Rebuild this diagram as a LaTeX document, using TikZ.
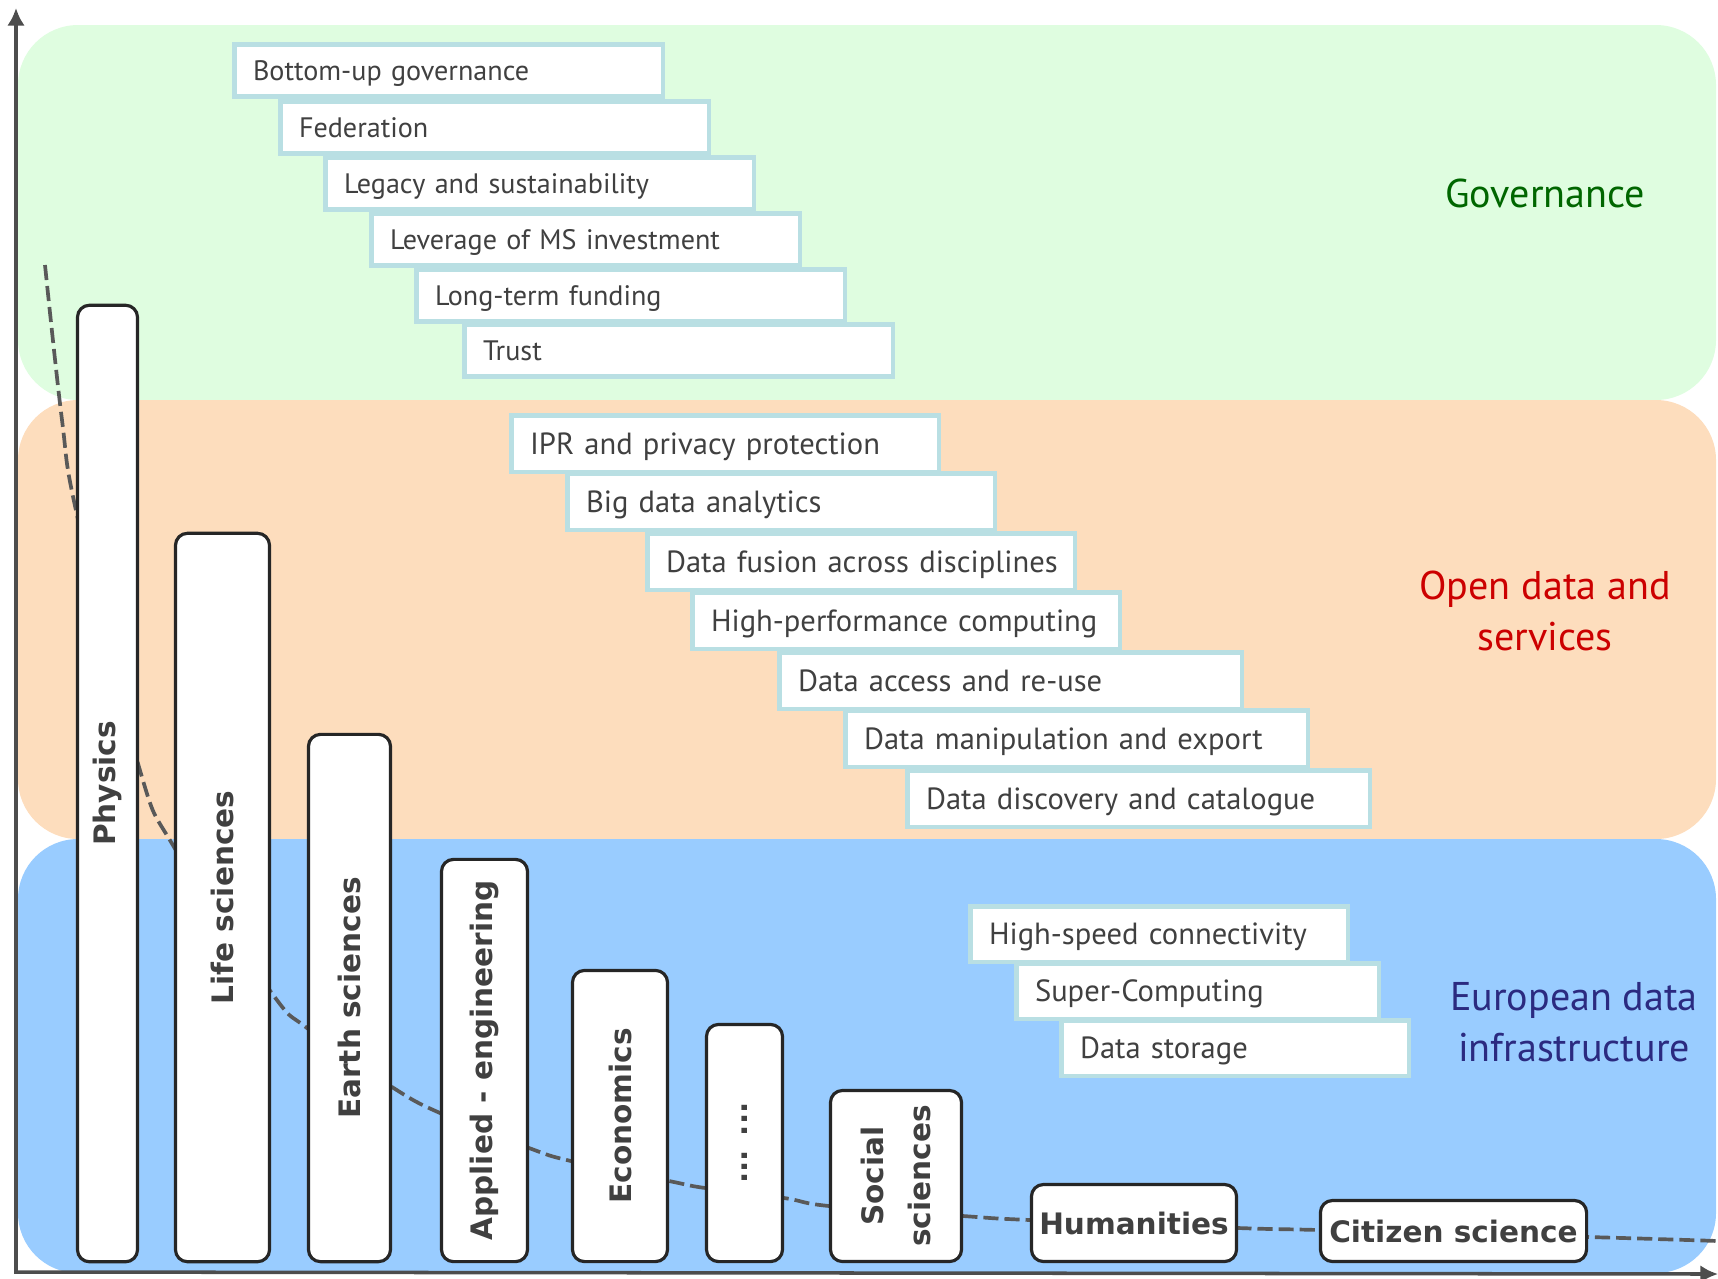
\documentclass[tikz,border=0pt]{standalone}
\usepackage{fontspec}
\setmainfont{PT Sans}
\newfontfamily\barfont{DejaVu Sans}
\usepackage{tikz}
\usetikzlibrary{arrows.meta}

\definecolor{govbg}{HTML}{DFFDE0}
\definecolor{openbg}{HTML}{FDDDBD}
\definecolor{infrabg}{HTML}{99CCFF}
\definecolor{boxrim}{HTML}{B9DFE3}
\definecolor{inkgray}{HTML}{404040}
\definecolor{axisgray}{HTML}{4D4D4D}
\definecolor{govgreen}{HTML}{006600}
\definecolor{openred}{HTML}{CC0000}
\definecolor{infrablue}{HTML}{2B2A80}

\tikzset{
  layer/.style={rounded corners=0.6cm},
  stairbox/.style={draw=boxrim, line width=1.3pt, fill=white, anchor=north west,
    inner xsep=0.187cm, inner ysep=0pt, text height=5.6pt, text depth=0pt,
    text width=#1, align=left, text=inkgray, font=\fontsize{8}{9.6}\selectfont},
  bigstair/.style={stairbox=#1, text height=6.1pt, font=\fontsize{8.7}{10.4}\selectfont},
  bar/.style={draw=black!85, line width=0.9pt, fill=white, rounded corners=0.12cm,
    inner sep=0pt, align=center, text=inkgray, font=\barfont\bfseries\fontsize{8.4}{13.3}\selectfont},
  areatitle/.style={align=center, font=\fontsize{11.4}{14.5}\selectfont},
  axis/.style={draw=axisgray, line width=1pt},
  trend/.style={draw=black!65, line width=1.05pt, dash pattern=on 4.3pt off 1.7pt}
}

\begin{document}
\begin{tikzpicture}[x=0.01cm, y=-0.01cm]
  \useasboundingbox (0,0) rectangle (1718,1278);

  % three layers
  \fill[govbg, layer] (18,25) rectangle (1716,400);
  \fill[openbg, layer] (18,400) rectangle (1716,839);
  \fill[infrabg, layer] (18,839) rectangle (1716,1273);

  % trend curve (behind the bars)
  \draw[trend] plot[smooth, tension=0.6] coordinates {(45,265) (62,420) (77,515) (139,767)
    (174,847) (271,992) (307,1028) (392,1087) (440,1113) (529,1148) (571,1161)
    (669,1181) (705,1188) (784,1198) (829,1206) (963,1216) (1030,1220) (1238,1228)
    (1319,1230) (1588,1237) (1718,1241)};

  % disciplines
  \foreach \nm/\cx/\cy/\barh/\barw/\txt in {phys/107.5/783.5/9.56/0.60/Physics,
      life/222.5/897.5/7.28/0.94/Life sciences, earth/349.5/998/5.27/0.82/Earth sciences,
      appl/484.5/1060.5/4.02/0.86/Applied - engineering, econ/620/1116/2.91/0.95/Economics,
      soc/896/1176/1.71/1.31/{Social\\sciences}}
    \node[bar, rotate=90, minimum width=\barh cm, minimum height=\barw cm] (\nm) at (\cx,\cy) {\txt};
  \node[bar, rotate=90, minimum width=2.37cm, minimum height=0.76cm] (dots) at (744.5,1143) {... ...};
  \node[bar, minimum width=2.05cm, minimum height=0.77cm] (hum) at (1134,1223) {Humanities};
  \node[bar, minimum width=2.66cm, minimum height=0.61cm] (cit) at (1453.5,1231) {Citizen science};

  % governance
  \foreach \n/\x/\y/\t in {1/232/42/Bottom-up governance, 2/278/99/Federation,
      3/323/155/Legacy and sustainability, 4/369/211/Leverage of MS investment,
      5/414/267/Long-term funding, 6/462/322/Trust}
    \node[stairbox=3.91cm, minimum height=0.52cm] (g\n) at (\x,\y) {\t};

  % open data and services
  \foreach \n/\x/\y/\tw/\t in {1/509/413/3.90/IPR and privacy protection,
      2/565/471/3.90/Big data analytics, 3/645/531/3.90/Data fusion across disciplines,
      4/690/590/3.90/High-performance computing, 5/777/650/4.25/Data access and re-use,
      6/843/708/4.25/Data manipulation and export, 7/905/768/4.25/Data discovery and catalogue}
    \node[bigstair=\tw cm, minimum height=0.565cm] (o\n) at (\x,\y) {\mbox{\t}};

  % infrastructure
  \foreach \n/\x/\y/\tw/\t in {1/968/904/3.40/High-speed connectivity,
      2/1014/961/3.25/Super-Computing, 3/1059/1018/3.10/Data storage}
    \node[bigstair=\tw cm, minimum height=0.555cm] (e\n) at (\x,\y) {\mbox{\t}};

  % layer titles
  \node[areatitle, text=govgreen, anchor=base] (govlbl) at (1545,207) {Governance};
  \node[areatitle, text=openred] (openlbl) at (1545,611) {Open data and\\services};
  \node[areatitle, text=infrablue] (infralbl) at (1574,1022) {European data\\infrastructure};

  % axes
  \coordinate (origin) at (16,1272);
  \coordinate (ytip) at (16,8);
  \coordinate (xtip) at (1718,1274);
  \draw[axis, {Latex[length=5pt,width=5pt]}-{Latex[length=5pt,width=5pt]}] (ytip) -- (origin) -- (xtip);
\end{tikzpicture}
\end{document}
